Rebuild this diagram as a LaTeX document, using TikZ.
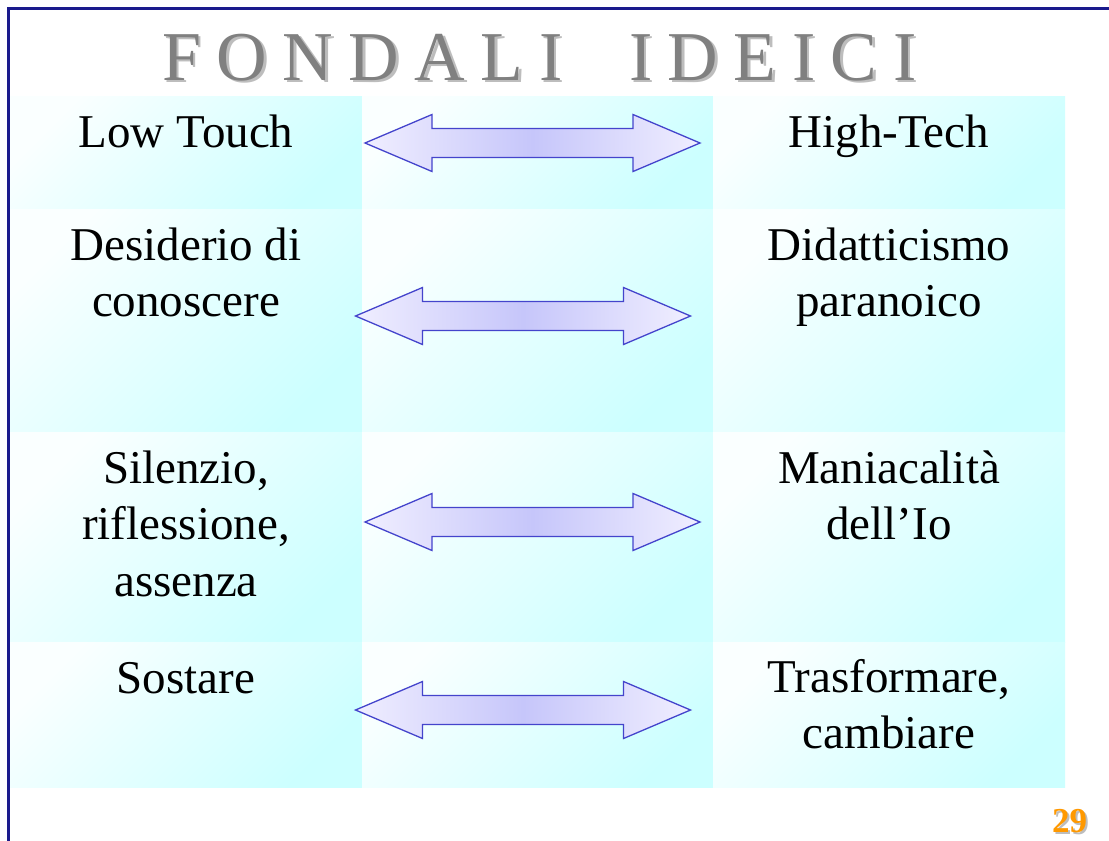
\documentclass[tikz,border=0pt]{standalone}
\usepackage{fontspec}
\setmainfont{Liberation Serif}
\definecolor{cellcyan}{HTML}{CCFFFF}
\definecolor{cellwhite}{HTML}{FAFFFF}
\definecolor{arrowfill}{HTML}{C6C6FA}
\definecolor{arrowlight}{HTML}{F0EEFF}
\definecolor{arrowline}{HTML}{4444CC}
\definecolor{framenavy}{HTML}{1A1A8C}
\definecolor{titlegray}{HTML}{808080}
\definecolor{shadowgray}{HTML}{BDBDBD}
\definecolor{pageorange}{HTML}{FF9900}
\newcommand\tg{\hspace{15.5pt}}
\newcommand\titlestring{F\tg O\tg N\tg D\tg A\tg L\tg I\hspace{66.7pt}I\tg D\tg E\tg I\tg C\tg I}
\tikzset{
  cell/.style={top color=cellwhite, bottom color=cellcyan, shading angle=45},
  celltext/.style={anchor=base, align=center, inner sep=0pt, font=\fontsize{47}{56.5}\selectfont},
  dblarrowstyle/.style={draw=arrowline, line width=1.3pt, line join=miter,
    left color=arrowlight, right color=arrowlight, middle color=arrowfill},
  titletext/.style={anchor=base west, inner sep=0pt, font=\fontsize{70}{80}\selectfont},
  pagenum/.style={anchor=base, inner sep=0pt, font=\bfseries\fontsize{35}{40}\selectfont},
  dblarrow/.pic={
    \path[dblarrowstyle] (-167.5,0) -- (-100.5,-28.5) -- (-100.5,-14.5) -- (100.5,-14.5)
      -- (100.5,-28.5) -- (167.5,0) -- (100.5,28.5) -- (100.5,14.5) -- (-100.5,14.5)
      -- (-100.5,28.5) -- cycle;
  }
}
\begin{document}
\begin{tikzpicture}[x=1pt,y=-1pt]
\useasboundingbox[fill=white] (0,0) rectangle (1109,841);
% table cells
\foreach \ya/\yb in {96/209, 209/432, 432/642, 642/787}{
  \foreach \xa/\xb in {10/362, 362/713, 713/1065}{
    \path[cell] (\xa,\ya) rectangle (\xb,\yb);
  }
}
% title with shadow
\node[titletext, text=shadowgray] (titleshadow) at (164.5,82.5) {\titlestring};
\node[titletext, text=titlegray] (title) at (162,80) {\titlestring};
% left column (anchor = baseline of the last line)
\node[celltext] (l1) at (186,147) {Low Touch};
\node[celltext] (l2) at (186,316.5) {Desiderio di\\conoscere};
\node[celltext] (l3) at (186,596) {Silenzio,\\riflessione,\\assenza};
\node[celltext] (l4) at (186,693) {Sostare};
% right column
\node[celltext] (r1) at (889,147) {High-Tech};
\node[celltext] (r2) at (889,316.5) {Didatticismo\\paranoico};
\node[celltext] (r3) at (889,539.5) {Maniacalità\\dell’Io};
\node[celltext] (r4) at (889,748.5) {Trasformare,\\cambiare};
% double arrows
\pic (a1) at (532.5,143) {dblarrow};
\pic (a2) at (523,316) {dblarrow};
\pic (a3) at (532.5,522) {dblarrow};
\pic (a4) at (523,710) {dblarrow};
% page number
\node[pagenum, text=shadowgray] (pgshadow) at (1071.5,834.5) {29};
\node[pagenum, text=pageorange] (pg) at (1069.5,832) {29};
% frame
\draw[framenavy, line width=2.6pt] (8.5,841) -- (8.5,8.5) -- (1109,8.5);
\end{tikzpicture}
\end{document}
